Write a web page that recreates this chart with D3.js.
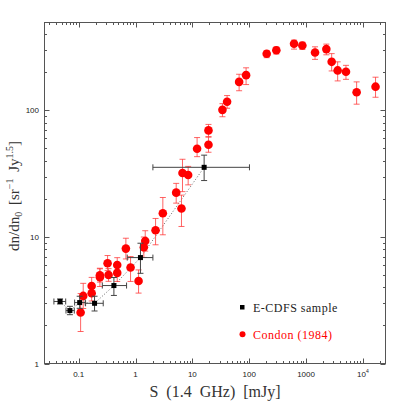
<!DOCTYPE html>
<html><head><meta charset="utf-8">
<script src="https://cdn.jsdelivr.net/npm/d3@7"></script>
<style>body{margin:0;background:#fff}svg{display:block}</style>
</head><body>
<svg id="c" width="407" height="407"></svg>
<script>
// E-CDFS sample
const ecdfsS   = [0.047, 0.070, 0.104, 0.19, 0.416, 1.22, 16.1];
const ecdfsY   = [3.09, 2.62, 3.03, 2.99, 4.13, 6.87, 35.5];
const ecdfsSlo = [0.0366, 0.0597, 0.0847, 0.132, 0.26, 0.714, 2.02];
const ecdfsShi = [0.059, 0.0836, 0.130, 0.27, 0.695, 2.02, 101];
const ecdfsYlo = [2.95, 2.43, 2.73, 2.6, 3.45, 5.16, 27.9];
const ecdfsYhi = [3.24, 2.83, 3.4, 3.4, 4.78, 8.92, 44.3];
// Condon (1984)
const condonS = [0.108, 0.12, 0.169, 0.169, 0.236, 0.236, 0.322, 0.335, 0.476, 0.476,
  0.676, 0.817, 1.13, 1.40, 1.48, 2.25, 3.02, 5.19, 6.43, 6.70, 8.43, 12.1, 19.2, 19.2,
  33.8, 40.8, 66.4, 88.1, 203, 300, 615, 861, 1439, 2276, 2823, 3600, 5040, 7762, 16700];
const condonY = [2.53, 3.42, 4.1, 3.59, 4.98, 4.8, 6.2, 5.01, 6.01, 5.2,
  8.09, 5.73, 4.49, 8.29, 9.3, 11.3, 15.4, 22.4, 16.8, 32.0, 30.9, 49.8, 69.5, 53.6,
  101, 117, 168, 190, 280, 299, 336, 326, 287, 305, 242, 207, 202, 139, 154];
const condonYlo = [1.79, 2.72, 3.57, 3.12, 4.4, 4.06, 5.42, 4.46, 5.3, 4.45,
  6.7, 4.45, 3.6, 6.89, 7.73, 8.67, 10.4, 18.5, 12.1, 22.8, 25.8, 43.1, 62.0, 46.7,
  89.1, 104, 143, 160, 261, 279, 305, 303, 253, 275, 205, 171, 176, 112, 127];
const condonYhi = [3.57, 4.3, 4.79, 4.12, 5.66, 5.6, 7.13, 5.62, 6.86, 6.1,
  9.77, 7.0, 5.49, 9.99, 11.2, 14.0, 20.5, 26.5, 21.4, 41.1, 36.1, 61.0, 77.5, 61.5,
  113, 131, 193, 217, 296, 317, 359, 346, 318, 334, 281, 242, 227, 168, 183];

const xTickVals = [0.1, 1, 10, 100, 1000, 10000];
const xTickLabels = ["0.1", "1", "10", "100", "1000", "10^4"];
const yTickVals = [1, 10, 100];
const yTickLabels = ["1", "10", "100"];

const L = 44.5, R = 385.5, T = 22.5, B = 363.5;
const x = d3.scaleLog().domain([0.025, 25000]).range([L, R]);
const y = d3.scaleLog().domain([1, 495]).range([B, T]);
const svg = d3.select("#c");
const frameCol = "#555";
const tickFont = "Liberation Sans, Arial, sans-serif";
const serif = "Liberation Serif, Times New Roman, serif";

// minor/major ticks
const xMinor = [];
for (let e = -2; e <= 4; e++) for (let m = 1; m <= 9; m++) {
  const v = m * Math.pow(10, e);
  if (v >= 0.025 && v <= 25000) xMinor.push({v, major: m === 1});
}
const yMinor = [];
for (let e = 0; e <= 2; e++) for (let m = 1; m <= 9; m++) {
  const v = m * Math.pow(10, e);
  if (v >= 1 && v <= 495) yMinor.push({v, major: m === 1});
}
const tg = svg.append("g").attr("stroke", frameCol).attr("stroke-width", 1);
xMinor.forEach(d => {
  const px = Math.round(x(d.v)) + 0.5, len = d.major ? 5 : 2.5;
  tg.append("line").attr("x1", px).attr("x2", px).attr("y1", B).attr("y2", B - len);
  tg.append("line").attr("x1", px).attr("x2", px).attr("y1", T).attr("y2", T + len);
});
yMinor.forEach(d => {
  const py = Math.round(y(d.v)) + 0.5, len = d.major ? 5 : 2.5;
  tg.append("line").attr("y1", py).attr("y2", py).attr("x1", L).attr("x2", L + len);
  tg.append("line").attr("y1", py).attr("y2", py).attr("x1", R).attr("x2", R - len);
});
svg.append("rect").attr("x", L).attr("y", T).attr("width", R - L).attr("height", B - T)
  .attr("fill", "none").attr("stroke", frameCol).attr("stroke-width", 1);

// tick labels
xTickVals.forEach((v, i) => {
  const lab = xTickLabels[i];
  const t = svg.append("text").attr("x", x(v)).attr("y", 377).attr("text-anchor", "middle")
    .attr("font-family", tickFont).attr("font-size", 8).attr("fill", "#222");
  if (lab.indexOf("^") > 0) {
    const [b, e] = lab.split("^");
    t.append("tspan").text(b);
    t.append("tspan").attr("font-size", 5).attr("dy", -4).text(e);
  } else t.text(lab);
});
yTickVals.forEach((v, i) => {
  svg.append("text").attr("x", 39).attr("y", y(v) + 3).attr("text-anchor", "end")
    .attr("font-family", tickFont).attr("font-size", 8).attr("fill", "#222").text(yTickLabels[i]);
});

// axis titles
svg.append("text").attr("x", 215).attr("y", 397).attr("text-anchor", "middle")
  .attr("font-family", serif).attr("font-size", 16).attr("fill", "#333")
  .attr("word-spacing", 4).text("S (1.4 GHz) [mJy]");
const yl = svg.append("text").attr("transform", "translate(19,196) rotate(-90)")
  .attr("text-anchor", "middle").attr("font-family", serif).attr("font-size", 15).attr("fill", "#333")
  .attr("word-spacing", 3);
yl.append("tspan").text("dn/dn");
yl.append("tspan").attr("font-size", 10).attr("dy", 3).text("0");
yl.append("tspan").attr("dy", -3).text(" [sr");
yl.append("tspan").attr("font-size", 10).attr("dy", -6).text("−1");
yl.append("tspan").attr("dy", 6).text(" Jy");
yl.append("tspan").attr("font-size", 10).attr("dy", -6).text("1.5");
yl.append("tspan").attr("dy", 6).text("]");

// dotted line through E-CDFS points
const line = d3.line().x(d => x(d[0])).y(d => y(d[1]));
svg.append("path").attr("d", line(ecdfsS.map((s, i) => [s, ecdfsY[i]])))
  .attr("fill", "none").attr("stroke", "#666").attr("stroke-width", 1).attr("stroke-dasharray", "1,2");

// Condon error bars + points
const cap = 3;
const rg = svg.append("g");
condonS.forEach((s, i) => {
  const px = x(s);
  const g = rg.append("g").attr("stroke", "#ff3030").attr("stroke-opacity", 0.75).attr("stroke-width", 1);
  g.append("line").attr("x1", px).attr("x2", px).attr("y1", y(condonYlo[i])).attr("y2", y(condonYhi[i]));
  g.append("line").attr("x1", px - cap).attr("x2", px + cap).attr("y1", y(condonYlo[i])).attr("y2", y(condonYlo[i]));
  g.append("line").attr("x1", px - cap).attr("x2", px + cap).attr("y1", y(condonYhi[i])).attr("y2", y(condonYhi[i]));
});
condonS.forEach((s, i) => {
  rg.append("circle").attr("cx", x(s)).attr("cy", y(condonY[i])).attr("r", 4.3).attr("fill", "#ff0000");
});

// E-CDFS error bars + points
const bg = svg.append("g");
ecdfsS.forEach((s, i) => {
  const px = x(s), py = y(ecdfsY[i]);
  const g = bg.append("g").attr("stroke", "#444").attr("stroke-width", 1);
  g.append("line").attr("x1", x(ecdfsSlo[i])).attr("x2", x(ecdfsShi[i])).attr("y1", py).attr("y2", py);
  g.append("line").attr("x1", x(ecdfsSlo[i])).attr("x2", x(ecdfsSlo[i])).attr("y1", py - cap).attr("y2", py + cap);
  g.append("line").attr("x1", x(ecdfsShi[i])).attr("x2", x(ecdfsShi[i])).attr("y1", py - cap).attr("y2", py + cap);
  g.append("line").attr("x1", px).attr("x2", px).attr("y1", y(ecdfsYlo[i])).attr("y2", y(ecdfsYhi[i]));
  g.append("line").attr("x1", px - cap).attr("x2", px + cap).attr("y1", y(ecdfsYlo[i])).attr("y2", y(ecdfsYlo[i]));
  g.append("line").attr("x1", px - cap).attr("x2", px + cap).attr("y1", y(ecdfsYhi[i])).attr("y2", y(ecdfsYhi[i]));
  bg.append("rect").attr("x", px - 2.5).attr("y", py - 2.5).attr("width", 5).attr("height", 5).attr("fill", "#000");
});

// legend
svg.append("rect").attr("x", 240).attr("y", 305).attr("width", 4.5).attr("height", 4.5).attr("fill", "#000");
svg.append("text").attr("x", 253).attr("y", 311.5).attr("font-family", serif).attr("font-size", 12)
  .attr("fill", "#222").attr("letter-spacing", 0.5).text("E-CDFS sample");
svg.append("circle").attr("cx", 242.5).attr("cy", 334.3).attr("r", 3).attr("fill", "#ff0000");
svg.append("text").attr("x", 253).attr("y", 338.5).attr("font-family", serif).attr("font-size", 12)
  .attr("fill", "#ff0000").attr("letter-spacing", 0.5).text("Condon (1984)");
</script>
</body></html>
